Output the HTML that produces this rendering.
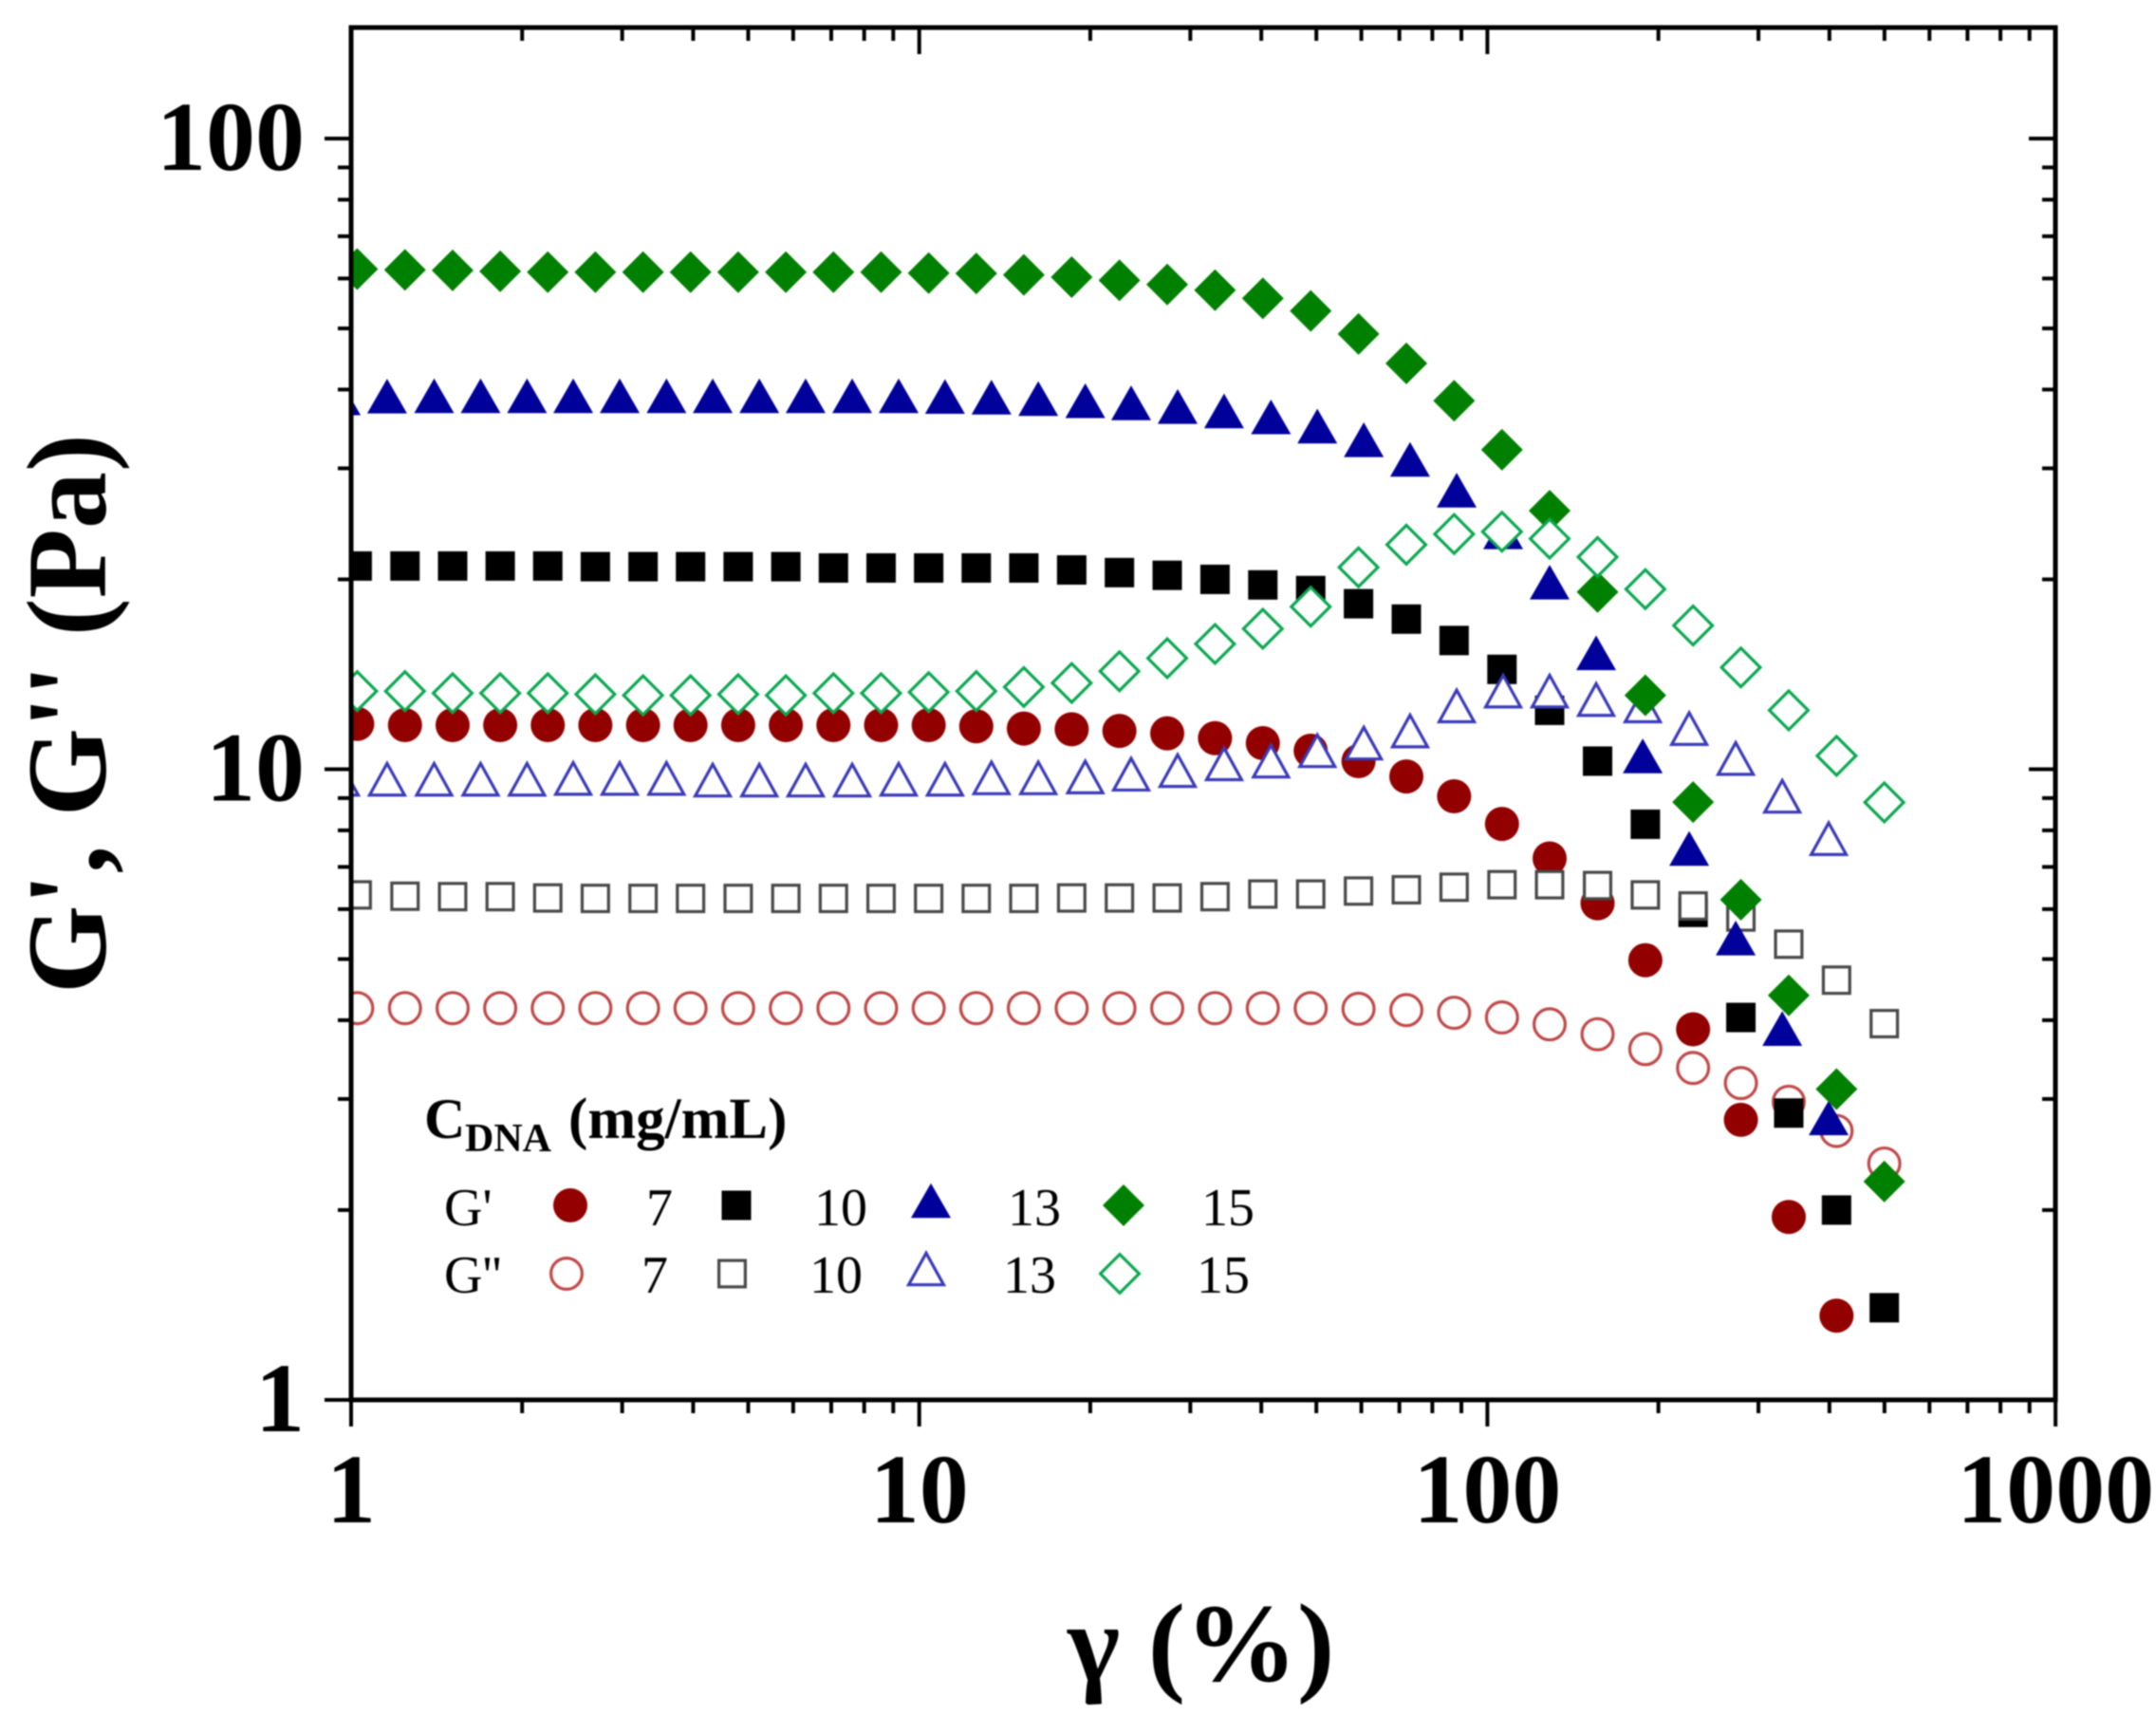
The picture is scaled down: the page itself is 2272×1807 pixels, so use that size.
<!DOCTYPE html>
<html lang="en">
<head>
<meta charset="utf-8">
<title>G', G'' versus strain for DNA concentrations</title>
<style>
  html, body { margin: 0; padding: 0; background: #fff; }
  body { width: 2272px; height: 1807px; overflow: hidden; }
  svg { display: block; filter: blur(0.8px); }
  text { font-family: "Liberation Serif", serif; fill: #000; }
  .tick-label { font-weight: bold; font-size: 104px; }
  .axis-title { font-weight: bold; font-size: 118px; }
  .y-title { font-size: 120px; }
  .legend-text { font-size: 56px; }
</style>
</head>
<body>
<svg id="chart" xmlns="http://www.w3.org/2000/svg" width="2272" height="1807" viewBox="0 0 2272 1807">
  <rect x="0" y="0" width="2272" height="1807" fill="#fff"/>
  <defs>
    <clipPath id="plot-clip"><rect x="370" y="29" width="1796" height="1446"/></clipPath>
  </defs>
  <g id="series-layer" clip-path="url(#plot-clip)"></g>
  <g id="axis-layer"></g>
  <g id="label-layer"></g>

  <text class="axis-title y-title" transform="translate(111 1047) rotate(-90)">G', G'' (Pa)</text>
  <text class="axis-title" x="1125" y="1771">γ (%)</text>

  <g>
    <text x="447" y="1199" font-weight="bold" font-size="60">C</text>
    <text x="490" y="1213" font-weight="bold" font-size="42">DNA</text>
    <text x="599" y="1199" font-weight="bold" font-size="61">(mg/mL)</text>

    <text class="legend-text" x="468" y="1291">G'</text>
    <text class="legend-text" x="681" y="1291">7</text>
    <text class="legend-text" x="858" y="1291">10</text>
    <text class="legend-text" x="1062" y="1291">13</text>
    <text class="legend-text" x="1266" y="1291">15</text>

    <text class="legend-text" x="468" y="1362">G''</text>
    <text class="legend-text" x="676" y="1362">7</text>
    <text class="legend-text" x="853" y="1362">10</text>
    <text class="legend-text" x="1057" y="1362">13</text>
    <text class="legend-text" x="1261" y="1362">15</text>
  </g>
  <g id="legend-markers"></g>
</svg>

<script>
// Strain values (%) — circle, square and diamond series
const gammaMain = [1.025,1.244,1.509,1.830,2.219,2.691,3.265,3.958,4.801,5.824,7.063,8.567,10.39,12.60,15.28,18.55,22.51,27.32,33.16,40.25,48.87,59.32,72.01,87.39,106.1,128.7,156.3,189.7,230.2,279.4,339.2,411.7,499.6];
// Strain values (%) — triangle series
const gammaTri = [0.959,1.157,1.40,1.69,2.04,2.46,2.97,3.59,4.33,5.23,6.31,7.62,9.20,11.1,13.4,16.2,19.6,23.6,28.5,34.4,41.6,50.2,60.6,73.1,88.3,106.6,128.7,155.4,187.7,226.6,273.6,330.4,398.8];

// Storage modulus G' (Pa)
const gp7 = [11.8,11.75,11.75,11.75,11.75,11.75,11.75,11.75,11.75,11.75,11.75,11.75,11.75,11.7,11.6,11.57,11.5,11.4,11.2,11.0,10.7,10.3,9.74,9.06,8.19,7.22,6.13,4.98,3.87,2.78,1.95,1.36];
const gp10 = [21.0,21.0,21.0,21.0,21.0,20.95,20.95,20.95,20.95,20.95,20.85,20.85,20.85,20.85,20.85,20.7,20.5,20.3,20.0,19.6,19.2,18.3,17.3,16.0,14.4,12.4,10.3,8.18,5.93,4.04,2.85,2.00,1.40];
const gp13 = [38.8,39.05,39.1,39.1,39.1,39.1,39.1,39.1,39.1,39.1,39.1,39.1,39.1,39.0,38.9,38.7,38.4,38.1,37.6,37.0,36.2,35.0,33.3,31.0,27.7,23.8,19.8,15.3,10.5,7.49,5.40,3.88,2.80];
const gp15 = [62.1,61.9,61.8,61.6,61.4,61.4,61.4,61.4,61.4,61.4,61.4,61.4,61.2,61.1,60.8,60.3,59.6,58.7,57.5,55.8,53.3,49.0,44.0,38.4,32.1,25.7,19.1,13.1,8.87,6.21,4.38,3.11,2.22];

// Loss modulus G'' (Pa)
const gpp7 = [4.18,4.18,4.18,4.18,4.18,4.18,4.18,4.18,4.18,4.18,4.18,4.18,4.18,4.18,4.18,4.18,4.18,4.18,4.18,4.18,4.18,4.17,4.15,4.11,4.04,3.94,3.80,3.60,3.36,3.18,2.97,2.67,2.37];
const gpp10 = [6.32,6.29,6.28,6.28,6.25,6.24,6.24,6.24,6.24,6.24,6.24,6.24,6.24,6.24,6.24,6.25,6.25,6.25,6.28,6.34,6.34,6.41,6.44,6.50,6.56,6.56,6.54,6.32,6.07,5.83,5.28,4.63,3.95];
const gpp13 = [9.64,9.64,9.64,9.64,9.64,9.67,9.67,9.67,9.61,9.61,9.61,9.61,9.64,9.64,9.69,9.69,9.72,9.82,9.95,10.2,10.3,10.7,11.0,11.5,12.6,13.3,13.3,12.9,12.6,11.6,10.4,9.06,7.76];
const gpp15 = [13.3,13.3,13.2,13.2,13.2,13.15,13.1,13.1,13.15,13.1,13.2,13.2,13.25,13.3,13.5,13.7,14.3,15.0,15.8,16.7,18.1,20.9,22.7,23.6,23.8,23.2,21.7,19.3,16.9,14.5,12.4,10.5,8.86];

// Axis ticks
const xTicks = [1,10,100,1000];
const xTickLabels = ["1","10","100","1000"];
const yTicks = [1,10,100];
const yTickLabels = ["1","10","100"];
const minorMultipliers = [2,3,4,5,6,7,8,9];

const SVGNS = 'http://www.w3.org/2000/svg';
const PLOT = { left: 370, right: 2166, top: 29, bottom: 1475 };
const X_DECADE = 598.7;
const Y_DECADE = 664.5;
function xScale(v) { return PLOT.left + X_DECADE * Math.log10(v); }
function yScale(v) { return PLOT.bottom - Y_DECADE * Math.log10(v); }

const axisLayer = document.getElementById('axis-layer');
const labelLayer = document.getElementById('label-layer');
const seriesLayer = document.getElementById('series-layer');
const legendLayer = document.getElementById('legend-markers');

function make(tag, attrs) {
  const el = document.createElementNS(SVGNS, tag);
  for (const k in attrs) el.setAttribute(k, attrs[k]);
  return el;
}

function tickLine(x1, y1, x2, y2, name) {
  const el = make('line', { x1: x1, y1: y1, x2: x2, y2: y2, stroke: '#000', 'stroke-width': 4 });
  
  
  axisLayer.appendChild(el);
}

const MAJOR = 28;
const MINOR = 14;

// Frame
const frame = make('rect', { x: PLOT.left, y: PLOT.top, width: PLOT.right - PLOT.left, height: PLOT.bottom - PLOT.top, fill: 'none', stroke: '#000', 'stroke-width': 5 });


axisLayer.appendChild(frame);

// X ticks
xTicks.forEach(function (t, idx) {
  const x = xScale(t);
  tickLine(x, PLOT.bottom, x, PLOT.bottom + MAJOR, 'x-major-tick');
  tickLine(x, PLOT.top, x, PLOT.top + MAJOR, 'x-major-tick-top');
  const lab = make('text', { x: x, y: 1604, 'text-anchor': 'middle', class: 'tick-label' });
  lab.textContent = xTickLabels[idx];
  
  
  labelLayer.appendChild(lab);
  if (idx < xTicks.length - 1) {
    minorMultipliers.forEach(function (m) {
      const xm = xScale(t * m);
      tickLine(xm, PLOT.bottom, xm, PLOT.bottom + MINOR, 'x-minor-tick');
      tickLine(xm, PLOT.top, xm, PLOT.top + MINOR, 'x-minor-tick-top');
    });
  }
});

// Y ticks
yTicks.forEach(function (t, idx) {
  const y = yScale(t);
  tickLine(PLOT.left, y, PLOT.left - MAJOR, y, 'y-major-tick');
  tickLine(PLOT.right, y, PLOT.right - MAJOR, y, 'y-major-tick-right');
  const lab = make('text', { x: 321, y: y + 33, 'text-anchor': 'end', class: 'tick-label' });
  lab.textContent = yTickLabels[idx];
  
  
  labelLayer.appendChild(lab);
  if (idx < yTicks.length - 1) {
    minorMultipliers.forEach(function (m) {
      const ym = yScale(t * m);
      tickLine(PLOT.left, ym, PLOT.left - MINOR, ym, 'y-minor-tick');
      tickLine(PLOT.right, ym, PLOT.right - MINOR, ym, 'y-minor-tick-right');
    });
  }
});

// Marker shapes
function markerElement(shape, cx, cy, filled, color) {
  const sw = 3.2;
  const fill = filled ? color : '#fff';
  const stroke = filled ? 'none' : color;
  const ins = filled ? 0 : sw / 2;
  let el;
  if (shape === 'circle') {
    el = make('circle', { cx: cx, cy: cy, r: 18 - ins });
  } else if (shape === 'square') {
    const s = 31 - ins * 2;
    el = make('rect', { x: cx - s / 2, y: cy - s / 2, width: s, height: s });
  } else if (shape === 'triangle') {
    const hw = 21 - ins * 1.6, hh = 18.3 - ins;
    el = make('polygon', { points: (cx) + ',' + (cy - hh) + ' ' + (cx + hw) + ',' + (cy + hh) + ' ' + (cx - hw) + ',' + (cy + hh) });
  } else {
    const r = 22 - ins;
    el = make('polygon', { points: cx + ',' + (cy - r) + ' ' + (cx + r) + ',' + cy + ' ' + cx + ',' + (cy + r) + ' ' + (cx - r) + ',' + cy });
  }
  el.setAttribute('fill', fill);
  el.setAttribute('stroke', stroke);
  if (!filled) el.setAttribute('stroke-width', sw);
  return el;
}

const seriesList = [
  { name: 'g-prime-7',          xs: gammaMain, ys: gp7,   shape: 'circle',   filled: true,  color: '#920000' },
  { name: 'g-double-prime-7',   xs: gammaMain, ys: gpp7,  shape: 'circle',   filled: false, color: '#c04848' },
  { name: 'g-prime-10',         xs: gammaMain, ys: gp10,  shape: 'square',   filled: true,  color: '#000000' },
  { name: 'g-double-prime-10',  xs: gammaMain, ys: gpp10, shape: 'square',   filled: false, color: '#484848' },
  { name: 'g-prime-13',         xs: gammaTri,  ys: gp13,  shape: 'triangle', filled: true,  color: '#00009a' },
  { name: 'g-double-prime-13',  xs: gammaTri,  ys: gpp13, shape: 'triangle', filled: false, color: '#3a3ab8' },
  { name: 'g-prime-15',         xs: gammaMain, ys: gp15,  shape: 'diamond',  filled: true,  color: '#008000' },
  { name: 'g-double-prime-15',  xs: gammaMain, ys: gpp15, shape: 'diamond',  filled: false, color: '#0aa850' }
];

seriesList.forEach(function (s) {
  const group = make('g', {});
  
  
  s.ys.forEach(function (v, i) {
    const pt = markerElement(s.shape, xScale(s.xs[i]), yScale(v), s.filled, s.color);
    
    
    group.appendChild(pt);
  });
  seriesLayer.appendChild(group);
});

// Legend markers
function legendMarker(shape, cx, cy, filled, color, name) {
  const el = markerElement(shape, cx, cy, filled, color);
  
  
  legendLayer.appendChild(el);
}
legendMarker('circle', 601, 1270, true, '#920000', 'legend-marker-g-prime-7');
legendMarker('square', 776, 1270, true, '#000000', 'legend-marker-g-prime-10');
legendMarker('triangle', 981, 1265, true, '#00009a', 'legend-marker-g-prime-13');
legendMarker('diamond', 1184, 1270, true, '#008000', 'legend-marker-g-prime-15');
legendMarker('circle', 597, 1342, false, '#c04848', 'legend-marker-g-double-prime-7');
legendMarker('square', 771.5, 1342, false, '#484848', 'legend-marker-g-double-prime-10');
legendMarker('triangle', 976, 1337, false, '#3a3ab8', 'legend-marker-g-double-prime-13');
legendMarker('diamond', 1180, 1342, false, '#0aa850', 'legend-marker-g-double-prime-15');
</script>
</body>
</html>
